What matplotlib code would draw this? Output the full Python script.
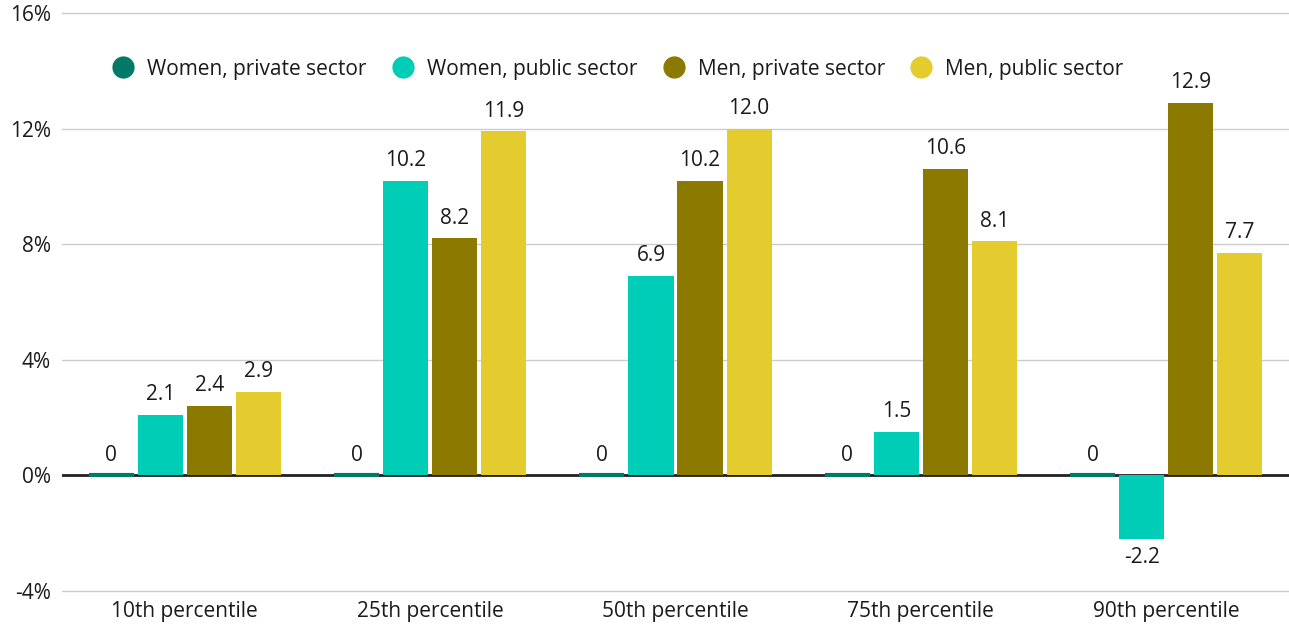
import matplotlib
matplotlib.use("Agg")
import matplotlib.pyplot as plt
import numpy as np

categories = ["10th percentile", "25th percentile", "50th percentile", "75th percentile", "90th percentile"]
series_names = ["Women, private sector", "Women, public sector", "Men, private sector", "Men, public sector"]
women_private = [0, 0, 0, 0, 0]
women_public = [2.1, 10.2, 6.9, 1.5, -2.2]
men_private = [2.4, 8.2, 10.2, 10.6, 12.9]
men_public = [2.9, 11.9, 12.0, 8.1, 7.7]
labels = [["0"] * 5,
          ["2.1", "10.2", "6.9", "1.5", "-2.2"],
          ["2.4", "8.2", "10.2", "10.6", "12.9"],
          ["2.9", "11.9", "12.0", "8.1", "7.7"]]
colors = ["#007a67", "#00cdb6", "#8b7900", "#e4cb2e"]
yticks = [-4, 0, 4, 8, 12, 16]
ytick_labels = ["-4%", "0%", "4%", "8%", "12%", "16%"]

plt.rcParams['font.family'] = ['Open Sans', 'DejaVu Sans']
FS = 15
TC = "#1a1a1a"

fig = plt.figure(figsize=(12.89, 6.27), dpi=100)
ax = fig.add_axes([62/1289, 1 - 591/627, (1289-62)/1289, (591-13)/627])

x = np.arange(len(categories))
step = 0.2
width = 0.184
all_series = [women_private, women_public, men_private, men_public]
for i, (vals, c, name) in enumerate(zip(all_series, colors, series_names)):
    pos = x + (i - 1.5) * step
    lw = 3 if i == 0 else 0
    ax.bar(pos, vals, width=width, color=c, edgecolor=c, linewidth=lw, label=name, zorder=3)
    for p, v, t in zip(pos, vals, labels[i]):
        if v >= 0:
            ax.annotate(t, (p, v), xytext=(0, 7), textcoords="offset points", ha="center", va="bottom",
                        fontsize=FS, color=TC)
        else:
            ax.annotate(t, (p, v), xytext=(0, -6), textcoords="offset points", ha="center", va="top",
                        fontsize=FS, color=TC)

ax.set_xlim(-0.5, len(categories) - 0.5)
ax.set_ylim(-4, 16)
ax.set_yticks(yticks)
ax.set_yticklabels(ytick_labels, fontsize=FS, color=TC)
ax.set_xticks(x)
ax.set_xticklabels(categories, fontsize=FS, color=TC)
ax.tick_params(axis="both", length=0)
ax.tick_params(axis="y", pad=8)
ax.tick_params(axis="x", pad=7)
ax.grid(axis="y", color="#cccccc", linewidth=1, zorder=0)
for gl in ax.get_ygridlines():
    gl.set_clip_on(False)
ax.axhline(0, color="#222222", linewidth=2, zorder=2.5)
for s in ax.spines.values():
    s.set_visible(False)

handles = [plt.Line2D([], [], marker="o", linestyle="", markersize=15, color=c) for c in colors]
fig.legend(handles, series_names, loc="center", bbox_to_anchor=(613/1289, 1 - 69/627), ncol=4,
           frameon=False, fontsize=FS, handletextpad=0.15, columnspacing=0.75, labelcolor=TC)

fig.savefig("out.png", dpi=100)
